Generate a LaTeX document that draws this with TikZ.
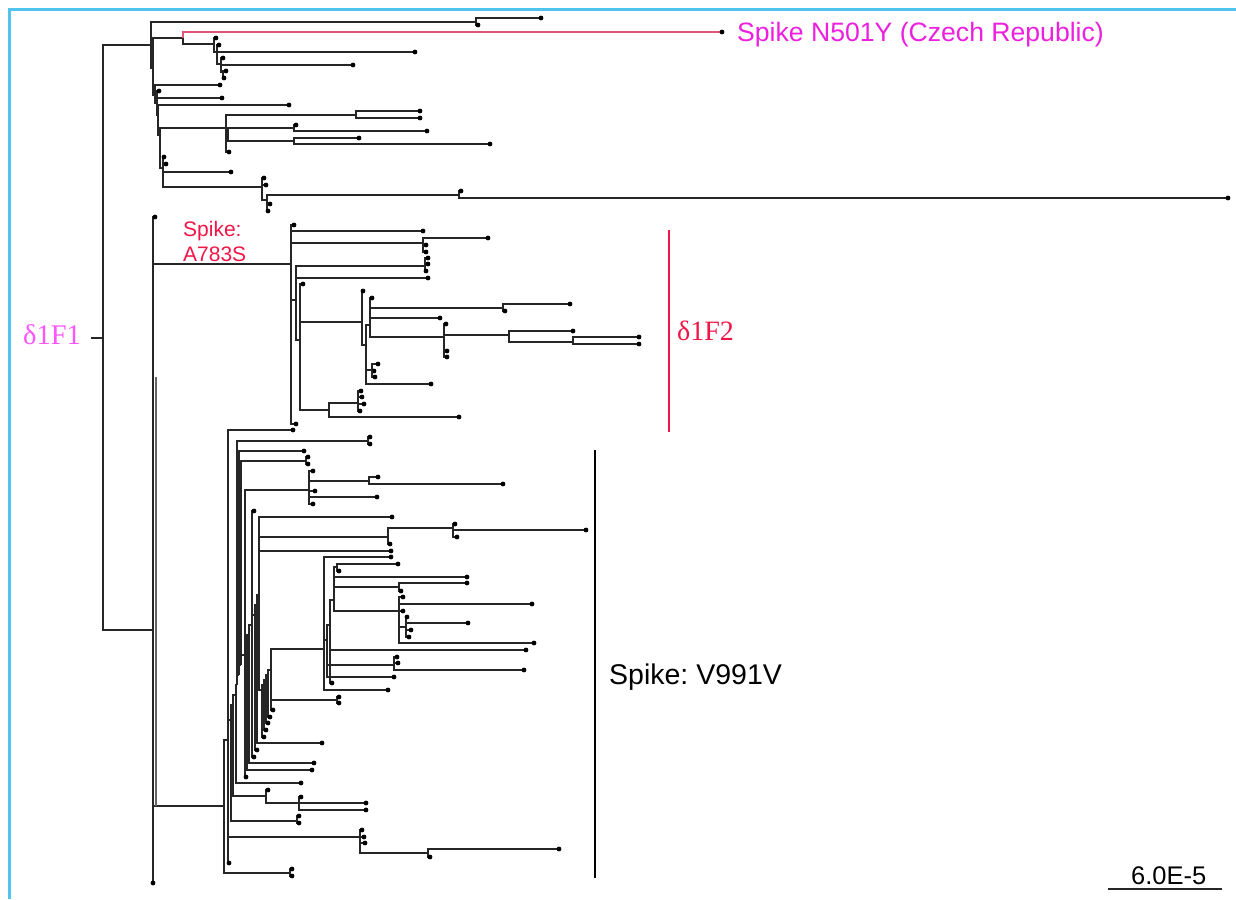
\documentclass[tikz,border=0pt]{standalone}
\usepackage{fontspec}
\setmainfont{Liberation Serif}
\setsansfont{Liberation Sans}
\frenchspacing
\definecolor{framec}{RGB}{80,196,236}
\definecolor{magc}{RGB}{236,32,222}
\definecolor{lmagc}{RGB}{255,84,255}
\definecolor{crimc}{RGB}{240,22,72}
\definecolor{pinkc}{RGB}{226,84,124}
\newcounter{leafc}
\tikzset{
  branch/.style={draw=black!85, line width=1.05pt},
  pinkbr/.style={draw=pinkc},
  dotst/.style={fill=black},
  frameline/.style={draw=framec, line width=3pt},
  cladebar/.style={line width=2.6pt},
  lbl/.style={inner sep=0pt, anchor=west}
}
\newcommand{\tbranch}[5][]{\coordinate (#3) at (#4,#5); \draw[branch,#1] (#2) |- (#3);}
\newcommand{\tleaf}[4][]{\stepcounter{leafc}\edef\lfname{lf\arabic{leafc}}\coordinate (\lfname) at (#3,#4); \draw[branch,#1] (#2) |- (\lfname); \fill[dotst] (\lfname) circle (2.4pt);}
\begin{document}
\begin{tikzpicture}[x=1pt,y=-1pt]
\useasboundingbox (0,0) rectangle (1236,899);
\fill[white] (0,0) rectangle (1236,899);
% frame
\coordinate (fa) at (9,899);
\coordinate (fb) at (9,9.5);
\coordinate (fc) at (1236,9.5);
\draw[frameline] (fa) -- (fb) -- (fc);

% root
\coordinate (stub) at (91,338);
\coordinate (R) at (103,338);
\draw[branch] (stub) -- (R);
\tbranch{R}{A}{151}{45}
\tbranch{R}{B}{153}{630}

% ---------- top clade
\tbranch{A}{A1}{476}{22}
\tleaf{A1}{541}{18}
\tleaf{A1}{478}{25}
\tbranch{A}{A2}{153}{68}
\tbranch{A2}{A21}{183}{38}
\tleaf[pinkbr]{A21}{722}{32}
\tbranch{A21}{A211}{214}{44}
\tleaf{A211}{216}{38}
\tbranch{A211}{A212}{217}{52}
\tleaf{A212}{219}{45}
\tleaf{A212}{415}{52}
\tbranch{A212}{A213}{221}{64}
\tleaf{A213}{223}{58}
\tleaf{A213}{353}{65}
\tbranch{A213}{A214}{223}{72}
\tleaf{A214}{226}{71}
\tleaf{A214}{224}{78}
\tbranch{A2}{A22}{155}{95}
\tleaf{A22}{220}{85}
\tbranch{A22}{A23}{157}{103}
\tleaf{A23}{159}{91}
\tleaf{A23}{222}{98}
\tbranch{A23}{A24}{158}{115}
\tleaf{A24}{289}{105}
\tbranch{A24}{A25}{160}{135}
\tbranch{A25}{A26}{226}{128}
\tbranch{A26}{A261}{356}{115}
\tleaf{A261}{420}{111}
\tleaf{A261}{420}{118}
\tbranch{A26}{A262}{228}{135}
\tbranch{A262}{A2621}{294}{128}
\tleaf{A2621}{296}{125}
\tleaf{A2621}{427}{131}
\tbranch{A262}{A2622}{294}{141}
\tleaf{A2622}{359}{138}
\tleaf{A2622}{490}{144}
\tleaf{A26}{229}{152}
\tbranch{A25}{A27}{163}{168}
\tleaf{A27}{164}{157}
\tleaf{A27}{166}{164}
\tleaf{A27}{231}{172}
\tbranch{A27}{A29}{262}{187}
\tleaf{A29}{264}{178}
\tleaf{A29}{266}{185}
\tbranch{A29}{A29b}{267}{200}
\tbranch{A29b}{A2a}{459}{195}
\tleaf{A2a}{461}{191}
\tleaf{A2a}{1228}{198}
\tleaf{A29b}{270}{204}
\tleaf{A29b}{268}{211}

% ---------- big clade
\tleaf{B}{155}{217}
\tbranch{B}{C}{291}{264}
\tbranch{B}{V}{224}{806}
\tleaf{B}{153}{883}
\coordinate (Bl) at (156,377);
\draw[branch,draw=black!60] (Bl) -- (Bl |- V);

% ---------- delta1F2 clade
\tleaf{C}{294}{225}
\tleaf{C}{423}{231}
\tbranch{C}{C1}{423}{243}
\tleaf{C1}{488}{238}
\tleaf{C1}{426}{245}
\tleaf{C1}{426}{252}
\tbranch{C}{C2}{296}{300}
\tbranch{C2}{C3}{425}{266}
\tleaf{C3}{428}{258}
\tleaf{C3}{428}{264}
\tleaf{C3}{426}{271}
\tleaf{C2}{428}{278}
\tbranch{C2}{C4}{300}{340}
\tleaf{C4}{303}{284}
\tbranch{C4}{C5}{362}{322}
\tleaf{C5}{363}{291}
\tbranch{C5}{C51}{366}{345}
\tbranch{C51}{C52}{370}{325}
\tleaf{C52}{372}{298}
\tbranch{C52}{C521}{503}{308}
\tleaf{C521}{570}{304}
\tleaf{C521}{505}{311}
\tleaf{C52}{440}{318}
\tbranch{C52}{C522}{444}{337}
\tleaf{C522}{446}{324}
\tbranch{C522}{C523}{509}{335}
\tleaf{C523}{573}{331}
\tbranch{C523}{C524}{573}{342}
\tleaf{C524}{639}{337}
\tleaf{C524}{639}{344}
\tleaf{C522}{447}{351}
\tleaf{C522}{447}{357}
\tbranch{C51}{C53}{372}{370}
\tleaf{C53}{378}{364}
\tleaf{C53}{374}{371}
\tleaf{C53}{375}{377}
\tleaf{C51}{431}{384}
\tbranch{C4}{C6}{329}{410}
\tbranch{C6}{C61}{358}{403}
\tleaf{C61}{361}{391}
\tleaf{C61}{362}{397}
\tleaf{C61}{364}{404}
\tleaf{C61}{360}{411}
\tleaf{C6}{459}{417}
\tleaf{C}{296}{424}

% ---------- V991V clade
\tbranch{V}{V1}{228}{740}
\tbranch{V}{Vz}{290}{873}
\tleaf{Vz}{292}{869}
\tleaf{Vz}{292}{876}
\tleaf{V1}{293}{430}
\tbranch{V1}{T}{360}{837}
\tleaf{T}{362}{830}
\tleaf{T}{364}{837}
\tleaf{T}{365}{843}
\tbranch{T}{T1}{428}{853}
\tleaf{T1}{559}{849}
\tleaf{T1}{430}{857}
\tleaf{V1}{229}{863}
\tbranch{V1}{V2}{231}{720}
\tbranch{V2}{Vc1}{297}{821}
\tleaf{Vc1}{299}{816}
\tleaf{Vc1}{299}{823}
\tbranch{V2}{V3}{233}{705}
\tbranch{V3}{Vc2}{266}{796}
\tleaf{Vc2}{268}{790}
\tbranch{Vc2}{Vc2a}{299}{803}
\tleaf{Vc2a}{301}{797}
\tleaf{Vc2a}{366}{803}
\tleaf{Vc2a}{366}{810}
\tbranch{V3}{V4}{236}{695}
\tleaf{V4}{301}{783}
\tbranch{V4}{V5}{237}{685}
\tbranch{V5}{Vc3}{368}{441}
\tleaf{Vc3}{370}{437}
\tleaf{Vc3}{370}{444}
\tbranch{V5}{V6}{239}{675}
\tleaf{V6}{304}{451}
\tbranch{V6}{V7}{241}{665}
\tbranch{V7}{Vc4}{306}{461}
\tleaf{Vc4}{308}{457}
\tleaf{Vc4}{308}{464}
\tbranch{V7}{V8}{245}{655}
\tbranch{V8}{P}{309}{490}
\tleaf{P}{313}{471}
\tbranch{P}{P1}{369}{481}
\tleaf{P1}{378}{477}
\tleaf{P1}{503}{484}
\tleaf{P}{315}{491}
\tleaf{P}{377}{497}
\tleaf{P}{313}{504}
\tleaf{V8}{246}{777}
\tbranch{V8}{V9}{247}{645}
\tleaf{V9}{312}{770}
\tbranch{V9}{V10}{249}{635}
\tleaf{V10}{314}{763}
\tbranch{V10}{V11}{252}{625}
\tleaf{V11}{254}{511}
\tleaf{V11}{254}{757}
\tbranch{V11}{V12}{255}{615}
\tleaf{V12}{257}{750}
\tbranch{V12}{V13}{257}{605}
\tleaf{V13}{322}{743}
\tbranch{V13}{V14}{259}{595}
\tleaf{V14}{392}{517}
\tbranch{V14}{Q}{388}{537}
\tbranch{Q}{Q1}{453}{528}
\tleaf{Q1}{455}{524}
\tleaf{Q1}{586}{530}
\tleaf{Q1}{457}{537}
\tleaf{Q}{390}{544}
\tleaf{V14}{391}{551}
\tbranch{V14}{V15}{262}{690}
\tleaf{V15}{264}{737}
\tbranch{V15}{V16}{264}{685}
\tleaf{V16}{266}{730}
\tbranch{V16}{V17}{266}{680}
\tleaf{V17}{268}{723}
\tbranch{V17}{V18}{268}{675}
\tleaf{V18}{270}{717}
\tbranch{V18}{V19}{271}{670}
\tleaf{V19}{273}{710}
\tbranch{V19}{Vc5}{337}{700}
\tleaf{Vc5}{339}{697}
\tleaf{Vc5}{339}{703}
\tbranch{V19}{S}{324}{649}
\tleaf{S}{391}{557}
\tbranch{S}{S1}{327}{640}
\tbranch{S1}{S2}{330}{625}
\tbranch{S2}{S3}{334}{600}
\tbranch{S3}{S4}{337}{567}
\tleaf{S4}{398}{564}
\tleaf{S4}{339}{571}
\tleaf{S3}{467}{577}
\tbranch{S3}{Sc}{399}{587}
\tleaf{Sc}{467}{583}
\tleaf{Sc}{401}{591}
\tbranch{S3}{U}{399}{611}
\tleaf{U}{403}{597}
\tleaf{U}{532}{604}
\tleaf{U}{403}{611}
\tbranch{U}{U1}{406}{627}
\tleaf{U1}{407}{617}
\tleaf{U1}{468}{623}
\tleaf{U1}{411}{630}
\tleaf{U1}{409}{637}
\tleaf{U}{534}{643}
\tleaf{S2}{526}{650}
\tleaf{S2}{332}{683}
\tbranch{S1}{Sd}{394}{665}
\tleaf{Sd}{397}{657}
\tleaf{Sd}{398}{663}
\tleaf{Sd}{524}{670}
\tleaf{S1}{394}{677}
\tleaf{S}{388}{690}

% ---------- clade bars
\coordinate (rbt) at (669,230);
\coordinate (rbb) at (669,432);
\draw[cladebar,crimc] (rbt) -- (rbb);
\coordinate (kbt) at (595,450);
\coordinate (kbb) at (595,878);
\draw[cladebar,black] (kbt) -- (kbb);

% ---------- labels
\node[lbl, text=magc, font=\sffamily\fontsize{26.6}{30}\selectfont] (n501) at (737,35) {Spike N501Y (Czech Republic)};
\node[lbl, text=crimc, font=\sffamily\fontsize{21}{25}\selectfont, align=left] (a783) at (183,241) {Spike:\\A783S};
\node[lbl, text=lmagc, font=\rmfamily\fontsize{28.5}{30}\selectfont] (d1f1) at (23,335) {δ1F1};
\node[lbl, text=crimc, font=\rmfamily\fontsize{28}{30}\selectfont] (d1f2) at (677,331) {δ1F2};
\node[lbl, text=black, font=\sffamily\fontsize{28.5}{32}\selectfont] (v991) at (609,677) {Spike: V991V};

% ---------- scale bar
\node[lbl, font=\sffamily\fontsize{25.5}{28}\selectfont] (scl) at (1131,876) {6.0E-5};
\coordinate (sba) at (1108,889);
\coordinate (sbb) at (1222,889);
\draw[line width=2.5pt, black!85] (sba) -- (sbb);
\end{tikzpicture}
\end{document}
